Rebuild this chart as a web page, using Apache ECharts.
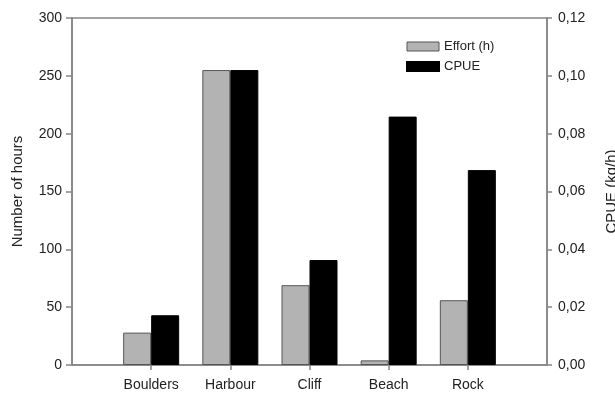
<!DOCTYPE html>
<html>
<head>
<meta charset="utf-8">
<script src="https://cdn.jsdelivr.net/npm/echarts@6/dist/echarts.min.js"></script>
<style>html,body{margin:0;padding:0;background:#fff;}#c{width:615px;height:396px;}</style>
</head>
<body>
<div id="c"></div>
<script>
var categories = ['Boulders', 'Harbour', 'Cliff', 'Beach', 'Rock'];
var effortHours = [28, 255, 69, 4, 56];
var cpueKgPerHour = [0.0172, 0.102, 0.0363, 0.0859, 0.0674];
var leftTicks = [0, 50, 100, 150, 200, 250, 300];
var rightTicks = [0, 0.02, 0.04, 0.06, 0.08, 0.10, 0.12];

var axisCats = [''].concat(categories).concat(['']);
var effortData = [null].concat(effortHours).concat([null]);
var cpueData = [null].concat(cpueKgPerHour).concat([null]);

var font = 'Liberation Sans, Arial, sans-serif';
var lineCol = '#858585';
var textCol = '#222';

var chart = echarts.init(document.getElementById('c'), null, {renderer: 'canvas'});
chart.setOption({
  animation: false,
  backgroundColor: '#fff',
  textStyle: {fontFamily: font},
  grid: {left: 72, right: 68, top: 18, bottom: 31, containLabel: false, outerBoundsMode: 'none',
    show: true, borderColor: lineCol, borderWidth: 1.5, backgroundColor: 'transparent'},
  legend: {
    orient: 'vertical', left: 401, top: 35, itemWidth: 32, itemHeight: 9, itemGap: 7,
    icon: 'rect',
    textStyle: {fontSize: 13, color: textCol, fontFamily: font},
    data: [
      {name: 'Effort (h)', icon: 'rect', itemStyle: {color: '#b3b3b3', borderColor: '#555', borderWidth: 1}},
      {name: 'CPUE', icon: 'rect', itemStyle: {color: '#000'}}
    ]
  },
  xAxis: {
    type: 'category', data: axisCats, boundaryGap: false,
    axisLine: {lineStyle: {color: lineCol, width: 1.5}},
    axisTick: {show: true, length: 5, lineStyle: {color: lineCol, width: 1.5}, interval: function(i){ return i > 0 && i < axisCats.length - 1; }},
    axisLabel: {fontSize: 14, color: textCol, margin: 13, interval: 0, fontFamily: font},
    splitLine: {show: false}
  },
  yAxis: [
    {
      type: 'value', min: leftTicks[0], max: leftTicks[leftTicks.length - 1], interval: 50,
      name: 'Number of hours', nameLocation: 'middle', nameGap: 47,
      nameTextStyle: {fontSize: 15, color: textCol, fontFamily: font},
      axisLine: {show: true, lineStyle: {color: lineCol, width: 1.5}},
      axisTick: {show: true, length: 6, lineStyle: {color: lineCol, width: 1.5}},
      axisLabel: {fontSize: 14, color: textCol, margin: 10, fontFamily: font},
      splitLine: {show: false}
    },
    {
      type: 'value', min: rightTicks[0], max: rightTicks[rightTicks.length - 1], interval: 0.02,
      position: 'right',
      name: 'CPUE (kg/h)', nameLocation: 'middle', nameGap: 57,
      nameTextStyle: {fontSize: 15, color: textCol, fontFamily: font},
      axisLine: {show: true, lineStyle: {color: lineCol, width: 1.5}},
      axisTick: {show: true, length: 5, lineStyle: {color: lineCol, width: 1.5}},
      axisLabel: {fontSize: 14, color: textCol, margin: 11, fontFamily: font,
        formatter: function(v){ return v.toFixed(2).replace('.', ','); }},
      splitLine: {show: false}
    }
  ],
  series: [
    {
      name: 'Effort (h)', type: 'bar', yAxisIndex: 0, data: effortData,
      barWidth: 28, barGap: '0%',
      itemStyle: {color: '#b3b3b3', borderColor: '#555', borderWidth: 1}
    },
    {
      name: 'CPUE', type: 'bar', yAxisIndex: 1, data: cpueData,
      barWidth: 28, barGap: '0%',
      itemStyle: {color: '#000', borderColor: '#000', borderWidth: 1}
    }
  ]
});
</script>
</body>
</html>
